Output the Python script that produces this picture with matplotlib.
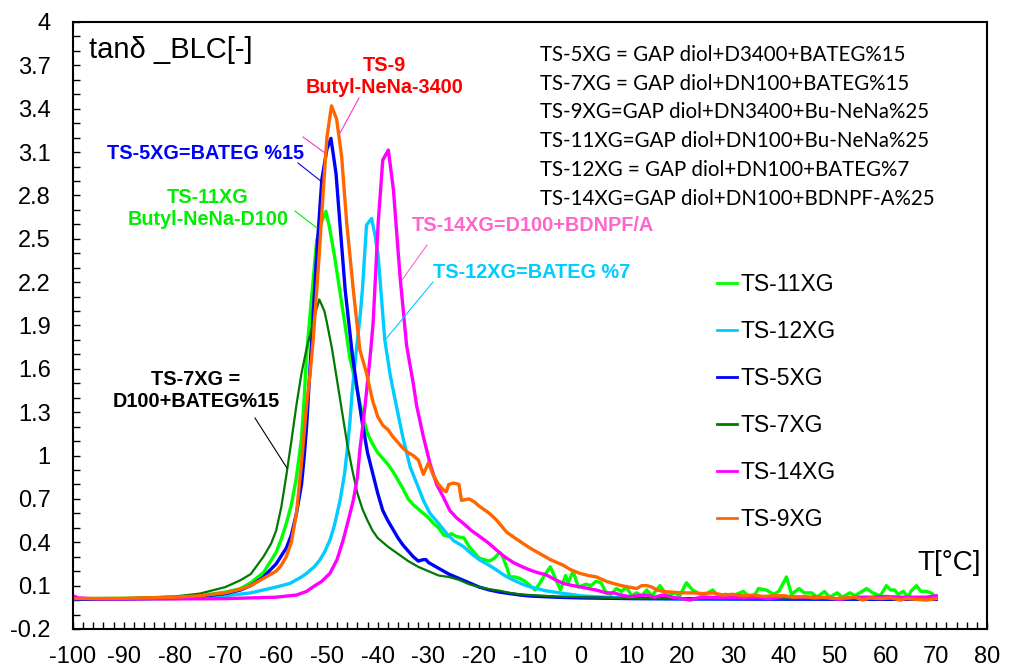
import matplotlib
matplotlib.use('Agg')
import matplotlib.pyplot as plt
from matplotlib.ticker import MultipleLocator, FormatStrFormatter

plt.rcParams['font.family'] = ['Liberation Sans', 'DejaVu Sans']
plt.rcParams['axes.unicode_minus'] = False

# Dữ liệu tanδ theo nhiệt độ
labels = ['TS-11XG', 'TS-12XG', 'TS-5XG', 'TS-7XG', 'TS-14XG', 'TS-9XG']
colors = ['#00FF00', '#00CCFF', '#0000FF', '#007A00', '#FF00FF', '#FF6600']
widths = [2.4, 2.4, 2.4, 1.6, 2.4, 2.4]

t_11 = [-100, -90, -80, -75, -70, -67, -65, -62.5, -60, -59, -58, -57, -56, -55, -54.5, -54, -53, -52,
        -51, -50.2, -49.5, -48.5, -47.5, -46.5, -45.5, -44, -43, -42, -41, -40, -39, -38, -37, -36,
        -35, -34, -33, -32, -31, -30, -29, -28, -27, -26, -25.5, -24.5, -23, -22, -21, -20, -19,
        -18, -17, -16, -15.5, -14.5, -14, -13, -12, -11, -10, -9, -8, -7, -6, -5, -4, -3, -2.5,
        -1.5, -0.5, 1, 2, 3, 4, 5, 6, 7, 8, 9, 10, 11, 12, 13, 14, 15.6, 17, 18.5, 19.5, 20.8, 22,
        23, 24, 26, 27, 28.5, 30, 32, 33, 34, 35, 36.5, 38, 39, 40.5, 41.5, 43, 44, 45.5, 46.5, 48,
        49, 50.5, 51.5, 53, 54, 56.3, 57.5, 59, 60.2, 61, 61.8, 62.5, 63.5, 64.5, 65, 66.1, 67, 68.1,
        69, 70]
tan_11 = [0.01, 0.012, 0.02, 0.03, 0.055, 0.08, 0.12, 0.19, 0.33, 0.42, 0.53, 0.66, 0.85, 1.12, 1.38,
          1.7, 2.1, 2.49, 2.62, 2.69, 2.58, 2.38, 2.15, 1.92, 1.68, 1.45, 1.28, 1.15, 1.08, 1.02, 0.98,
          0.94, 0.89, 0.83, 0.77, 0.7, 0.66, 0.63, 0.6, 0.57, 0.53, 0.5, 0.45, 0.44, 0.46, 0.44, 0.43,
          0.37, 0.33, 0.29, 0.28, 0.27, 0.29, 0.33, 0.31, 0.22, 0.16, 0.16, 0.15, 0.13, 0.1, 0.07,
          0.12, 0.18, 0.23, 0.15, 0.07, 0.17, 0.12, 0.2, 0.09, 0.11, 0.1, 0.13, 0.12, 0.05, 0.04, 0.08,
          0.06, 0.09, 0.03, 0.05, 0.03, 0.07, 0.03, 0.1, 0.03, 0.05, 0.03, 0.12, 0.07, 0.05, 0.03,
          0.07, 0.03, 0.04, 0.03, 0.06, 0.03, 0.02, 0.08, 0.07, 0.04, 0.06, 0.16, 0.04, 0.08, 0.05,
          0.05, 0.02, 0.06, 0.02, 0.05, 0.02, 0.05, 0.03, 0.08, 0.05, 0.03, 0.1, 0.07, 0.07, 0.04,
          0.06, 0.02, 0.06, 0.1, 0.06, 0.06, 0.05, 0.02]

t_12 = [-100, -90, -80, -70, -65, -62.5, -60, -57.3, -55, -54, -52.5, -51.4, -50.5, -49.4, -48.5,
        -47.4, -46.5, -46, -45.5, -45, -44.3, -43.5, -43, -42.2, -41.2, -40.5, -39.9, -38.6, -37.5,
        -36.3, -35, -33.6, -32, -31, -29.7, -28, -26.4, -25, -23.1, -21.5, -19.9, -18, -16.6, -15,
        -13.3, -11.5, -10, -7, -3.4, 0, 3, 10, 20, 40, 70]
tan_12 = [0.005, 0.006, 0.01, 0.03, 0.05, 0.07, 0.09, 0.115, 0.16, 0.185, 0.23, 0.277, 0.33, 0.415,
          0.52, 0.69, 0.88, 1.04, 1.22, 1.45, 1.7, 1.95, 2.15, 2.595, 2.64, 2.52, 2.38, 1.8, 1.55,
          1.34, 1.12, 0.92, 0.78, 0.69, 0.6, 0.53, 0.46, 0.41, 0.37, 0.32, 0.277, 0.24, 0.208, 0.17,
          0.139, 0.11, 0.092, 0.065, 0.046, 0.03, 0.023, 0.012, 0.008, 0.006, 0.005]

t_5 = [-100, -90, -80, -75, -70, -67, -65, -62.5, -60, -58, -57, -56, -55, -54.5, -54, -53.5, -53,
       -52, -51, -50, -49.2, -48.2, -47.2, -46.4, -45, -44, -43, -42, -41, -40, -39, -38, -37, -36,
       -35, -34, -33, -32, -31, -30.5, -30, -29, -28, -26, -24, -22, -20, -18, -16, -14, -12, -10,
       -5, 0, 10, 40, 70]
tan_5 = [0.005, 0.008, 0.015, 0.025, 0.045, 0.07, 0.1, 0.16, 0.25, 0.36, 0.45, 0.6, 0.8, 0.98, 1.2,
         1.5, 1.8, 2.4, 2.91, 3.12, 3.195, 2.95, 2.5, 2.145, 1.7, 1.45, 1.22, 1.02, 0.88, 0.74, 0.62,
         0.55, 0.49, 0.43, 0.38, 0.34, 0.3, 0.27, 0.28, 0.28, 0.26, 0.24, 0.22, 0.18, 0.15, 0.12, 0.09,
         0.07, 0.055, 0.045, 0.035, 0.028, 0.02, 0.015, 0.01, 0.007, 0.005]

t_7 = [-100, -90, -80, -75, -70, -67, -65, -62.5, -61, -60, -59, -58, -57, -56, -55, -54, -53, -52,
       -51.5, -50.5, -50, -49, -48, -47, -46, -45, -44, -43, -42, -41, -40, -38, -36, -34, -32, -30,
       -28, -26, -24, -22, -20, -18, -16, -14, -12, -10, -5, 0, 10, 20, 40, 70]
tan_7 = [0.01, 0.012, 0.025, 0.045, 0.09, 0.138, 0.18, 0.3, 0.39, 0.48, 0.64, 0.86, 1.1, 1.35, 1.57,
         1.74, 1.88, 2.02, 2.08, 2.0, 1.92, 1.74, 1.52, 1.3, 1.08, 0.9, 0.74, 0.63, 0.55, 0.48, 0.43,
         0.37, 0.32, 0.27, 0.23, 0.2, 0.17, 0.16, 0.14, 0.11, 0.09, 0.075, 0.065, 0.05, 0.04, 0.035,
         0.025, 0.02, 0.012, 0.01, 0.01, 0.01]

t_14 = [-100, -99, -95, -90, -80, -70, -60, -56, -54, -52.7, -51, -49.4, -48, -46.8, -45.8, -44.8,
        -44, -43.5, -42.5, -41.5, -40.9, -39.9, -39, -37.9, -36.9, -35.6, -34.3, -33, -32.3, -31,
        -29.7, -28.4, -27.1, -25.8, -24.5, -23.1, -21.5, -19.9, -18, -16.6, -15, -13.3, -11.5, -10,
        -8.5, -6.7, -5, -3.4, -1.5, -0.2, 1.5, 3.1, 5, 6.4, 8, 9.7, 11, 13, 14.5, 16.2, 18, 20, 21.5,
        23, 25, 28, 30, 32, 35, 37, 40, 43, 46, 49, 51, 54, 57, 60, 63, 66, 68, 70]
tan_14 = [0.03, 0.015, 0.008, 0.008, 0.008, 0.01, 0.02, 0.035, 0.06, 0.092, 0.13, 0.185, 0.28, 0.415,
          0.55, 0.69, 0.85, 1.04, 1.34, 1.68, 1.915, 2.61, 3.045, 3.114, 2.84, 2.24, 1.76, 1.5, 1.34,
          1.13, 0.946, 0.8, 0.715, 0.62, 0.57, 0.53, 0.48, 0.44, 0.39, 0.346, 0.3, 0.26, 0.23, 0.208,
          0.19, 0.173, 0.14, 0.115, 0.1, 0.092, 0.08, 0.069, 0.05, 0.05, 0.035, 0.023, 0.03, 0.035,
          0.02, 0.035, 0.02, 0.01, 0.0, 0.015, 0.02, 0.015, 0.02, 0.015, 0.02, 0.01, 0.025, 0.02, 0.02,
          0.015, 0.005, 0.02, 0.02, 0.025, 0.02, 0.02, 0.02, 0.03]

t_9 = [-100, -90, -80, -75, -70, -67, -65, -62.5, -60, -59, -58, -57, -56, -55, -54.5, -54, -53.3,
       -52.7, -52, -51.5, -50.7, -50, -49.1, -48.1, -47.1, -46.1, -44.8, -43.5, -42.2, -41, -40, -39,
       -38, -37, -36, -35, -34, -33, -32, -31, -30, -29, -28, -27, -26.5, -26, -25, -24, -23.5, -22,
       -21, -20, -18, -16.6, -14.6, -13, -11.3, -10, -8, -6, -3.4, -2, -0.2, 1.5, 3.1, 5, 6.4, 8, 9.5,
       11, 12, 13, 14, 15, 16.2, 18, 20, 22, 24, 26, 28, 30, 32, 34, 36, 38, 40, 42, 44, 46, 48, 50,
       52, 54, 55.5, 57, 59, 61, 63, 64, 66, 68, 70]
tan_9 = [0.01, 0.012, 0.02, 0.03, 0.05, 0.075, 0.1, 0.15, 0.2, 0.24, 0.3, 0.4, 0.6, 0.95, 1.15, 1.35,
         1.57, 1.8, 2.145, 2.4, 2.84, 3.2, 3.42, 3.33, 3.07, 2.61, 2.145, 1.73, 1.57, 1.38, 1.27, 1.21,
         1.18, 1.13, 1.09, 1.05, 1.02, 1.0, 0.97, 0.87, 0.95, 0.86, 0.8, 0.76, 0.75, 0.8, 0.81, 0.8,
         0.69, 0.7, 0.68, 0.65, 0.6, 0.554, 0.47, 0.43, 0.39, 0.36, 0.32, 0.28, 0.24, 0.21, 0.185, 0.17,
         0.16, 0.13, 0.115, 0.1, 0.09, 0.08, 0.1, 0.1, 0.09, 0.07, 0.06, 0.055, 0.05, 0.05, 0.045, 0.05,
         0.035, 0.04, 0.03, 0.035, 0.025, 0.03, 0.03, 0.02, 0.025, 0.015, 0.02, 0.01, 0.015, 0.02, 0.0,
         0.015, 0.01, 0.015, 0.0, 0.01, 0.005, 0.0, 0.01]

temps = [t_11, t_12, t_5, t_7, t_14, t_9]
values = [tan_11, tan_12, tan_5, tan_7, tan_14, tan_9]

# Chú thích công thức
recipes = ['TS-5XG = GAP diol+D3400+BATEG%15',
           'TS-7XG = GAP diol+DN100+BATEG%15',
           'TS-9XG=GAP diol+DN3400+Bu-NeNa%25',
           'TS-11XG=GAP diol+DN100+Bu-NeNa%25',
           'TS-12XG = GAP diol+DN100+BATEG%7',
           'TS-14XG=GAP diol+DN100+BDNPF-A%25']

fig = plt.figure(figsize=(10.17, 6.68), dpi=100)
ax = fig.add_axes([0.0718, 0.0584, 0.8987, 0.9087])

for t, v, lab, c, w in zip(temps, values, labels, colors, widths):
    ax.plot(t, v, color=c, lw=w, label=lab)

ax.set_xlim(-100, 80)
ax.set_ylim(-0.2, 4)
ax.xaxis.set_major_locator(MultipleLocator(10))
ax.xaxis.set_minor_locator(MultipleLocator(2))
ax.set_yticks([-0.2 + 0.3 * i for i in range(15)])
ax.yaxis.set_minor_locator(MultipleLocator(0.1))
ax.yaxis.set_major_formatter(FormatStrFormatter('%g'))
ax.tick_params(which='both', direction='in', length=5, width=1)
ax.tick_params(axis='y', labelsize=17, pad=16)
ax.tick_params(axis='x', labelsize=17, pad=12)
for s in ax.spines.values():
    s.set_linewidth(1.5)

ax.text(-96.85, 3.806, 'tanδ _BLC[-]', fontsize=21, va='center', ha='left')
ax.text(72.5, 0.256, 'T[°C]', fontsize=20, va='center', ha='center')

# Nhãn cho từng đường
bold = dict(fontweight='bold', fontsize=14.3, ha='center', va='center', linespacing=1.2)
ax.text(-38.6, 3.62, 'TS-9\nButyl-NeNa-3400', color='#FF0000', **bold)
ax.text(-74.0, 3.087, 'TS-5XG=BATEG %15', color='#0000FF', **bold)
ax.text(-73.4, 2.706, 'TS-11XG\nButyl-NeNa-D100', color='#00EE00', **bold)
ax.text(-75.8, 1.453, 'TS-7XG =\nD100+BATEG%15', color='black', **bold)
ax.text(-9.4, 2.595, 'TS-14XG=D100+BDNPF/A', color='#FF66CC', **bold)
ax.text(-9.6, 2.27, 'TS-12XG=BATEG %7', color='#00CCFF', **bold)

# Đường dẫn nhãn
def px2data(px, py):
    return (px - 73) / 5.078 - 100, 4 - (py - 22) / 144.5

leaders = [((359, 98), (340, 133), '#FF33CC'),
           ((303, 137), (325, 153), '#FF33CC'),
           ((298, 163), (322, 182), '#0000FF'),
           ((295, 211), (317, 228), '#00EE00'),
           ((255, 418), (287, 468), 'black'),
           ((427, 245), (402, 280), '#FF66CC'),
           ((433, 282), (385, 340), '#00CCFF')]
for p0, p1, c in leaders:
    a = px2data(*p0)
    b = px2data(*p1)
    ax.plot([a[0], b[0]], [a[1], b[1]], color=c, lw=0.8)

ys = [3.772, 3.571, 3.377, 3.176, 2.976, 2.775]
for txt, y in zip(recipes, ys):
    ax.text(-8.0, y, txt, fontsize=14.8, family=['Lato', 'DejaVu Sans'], va='center', ha='left')

leg = ax.legend(loc='upper left', bbox_to_anchor=(0.705, 0.592), bbox_transform=fig.transFigure,
                frameon=False, fontsize=16.5, handlelength=0.87, handletextpad=0.17,
                labelspacing=1.05, borderpad=0, borderaxespad=0)
for line in leg.get_lines():
    line.set_linewidth(2)

plt.savefig('out.png', dpi=100)
